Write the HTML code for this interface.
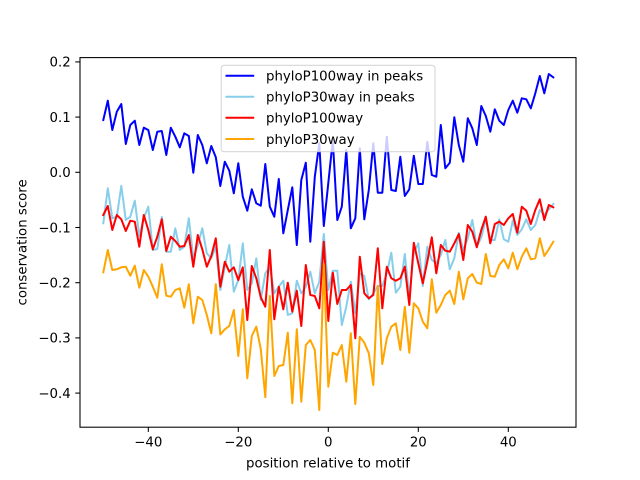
<!DOCTYPE html>
<html><head><meta charset="utf-8"><style>
html,body{margin:0;padding:0;background:#fff;}
svg{display:block;}
text{font-family:"DejaVu Sans","Liberation Sans",sans-serif;font-size:13.33px;fill:#000;}
</style></head><body>
<svg width="640" height="480" viewBox="0 0 640 480" xmlns="http://www.w3.org/2000/svg">
<rect x="0" y="0" width="640" height="480" fill="#fff"/>
<defs><clipPath id="ax"><rect x="80" y="57.6" width="496" height="369.6"/></clipPath></defs>
<g clip-path="url(#ax)" fill="none" stroke-width="2" stroke-linejoin="round" stroke-linecap="square">
<g transform="translate(103.3,0) scale(4.5,1)">
<polyline vector-effect="non-scaling-stroke" stroke="#0000ff" points="0,120 1,100.7 2,130 3,111.7 4,104 5,144 6,125 7,120.7 8,145 9,127.7 10,130 11,150 12,131.7 13,131 14,155 15,127.7 16,136.7 17,147.3 18,133.3 19,136 20,172.7 21,135 22,145 23,163.3 24,146 25,157.3 26,186 27,161.7 28,170.7 29,193.3 30,163.3 31,196.7 32,210.7 33,189.3 34,203.3 35,205.7 36,164 37,206.7 38,216.7 39,179 40,233.3 41,210 42,187.3 43,245 44,180 45,162.7 46,241.7 47,176.7 48,143.3 49,226 50,183 51,140 52,220 53,206.7 54,150 55,228.3 56,218.3 57,148.3 58,219.3 59,190 60,143.3 61,192.7 62,192.7 63,136.7 64,190 65,191 66,156.7 67,196 68,189.3 69,155.7 70,184 71,184 72,141.7 73,175 74,176.7 75,125 76,168.3 77,162.7 78,117.3 79,145 80,161.7 81,118.3 82,128.3 83,145 84,106 85,116 86,131.7 87,109.3 88,120.7 89,125 90,110 91,100.7 92,112.7 93,98.3 94,99.3 95,108.3 96,93.3 97,76 98,93.3 99,74 100,77.3"/>
<polyline vector-effect="non-scaling-stroke" stroke="#87ceeb" points="0,223.3 1,188.3 2,218.3 3,216.7 4,186 5,220 6,216.7 7,200.7 8,236 9,218 10,206.7 11,250 12,249 13,217 14,251.7 15,251.7 16,228.3 17,250 18,246.7 19,218.3 20,258.3 21,245 22,228.3 23,253.3 24,258.3 25,246.7 26,290 27,266.7 28,245 29,291.7 30,280 31,243.3 32,290 33,283.3 34,258.3 35,300 36,273.3 37,266.7 38,293.3 39,286.7 40,280.7 41,315 42,313.3 43,280.7 44,293.3 45,286.7 46,271.7 47,293.3 48,281.7 49,234 50,290 51,270.7 52,270.7 53,325 54,306.7 55,281.7 56,313.3 57,273.3 58,276 59,299.3 60,293.3 61,286 62,286 63,273.3 64,252.7 65,292.7 66,286.7 67,254 68,296.7 69,253.3 70,243.3 71,286 72,246.7 73,260 74,263.3 75,255 76,240 77,269.3 78,258.3 79,232.7 80,250 81,238.3 82,220 83,246.7 84,237.3 85,219.3 86,240 87,240 88,219.3 89,239.3 90,241.7 91,220.7 92,235 93,229.3 94,219.3 95,230 96,225 97,210 98,215 99,209.3 100,204"/>
<polyline vector-effect="non-scaling-stroke" stroke="#ff0000" points="0,215 1,206 2,230 3,215 4,219.3 5,231 6,220.7 7,221.7 8,246.7 9,215 10,230 11,249.3 12,236.7 13,219.3 14,251 15,236.7 16,241 17,246.7 18,246 19,235 20,266.7 21,235 22,249.3 23,266.7 24,256 25,238.3 26,286.7 27,261.7 28,271.7 29,267.3 30,280 31,267.3 32,320 33,266 34,278.3 35,297.3 36,306.7 37,250 38,319.3 39,286.7 40,309.3 41,282.7 42,311.7 43,290.7 44,326 45,265 46,295 47,296 48,308.3 49,241.7 50,321 51,272.7 52,304 53,290 54,290 55,285 56,338.3 57,256.7 58,293.3 59,298.3 60,295 61,248.3 62,308.3 63,266.7 64,278.3 65,280.7 66,278.3 67,266.7 68,305 69,242.7 70,263.3 71,283.3 72,261.7 73,237.3 74,273.3 75,245 76,250.7 77,251.7 78,243.3 79,234 80,260 81,225 82,231.7 83,247.3 84,230 85,216.7 86,243.3 87,224 88,221.7 89,225 90,218.3 91,214 92,232.7 93,206.7 94,210.7 95,224 96,210 97,199.3 98,220 99,205 100,207.3"/>
<polyline vector-effect="non-scaling-stroke" stroke="#ffa500" points="0,272.3 1,250 2,270 3,269.3 4,267.3 5,266.7 6,275.7 7,265.7 8,287.7 9,270 10,276.7 11,286.7 12,297.7 13,264.3 14,295.7 15,296.7 16,290 17,288.3 18,307.7 19,284.3 20,323.3 21,296.7 22,300 23,315 24,333.3 25,284.3 26,334.5 27,329.3 28,326 29,310 30,356 31,309.3 32,378.3 33,336 34,326.7 35,349.3 36,397.3 37,296 38,376 39,366 40,365 41,332.7 42,403.3 43,329.3 44,401.7 45,345 46,340 47,350 48,410 49,264 50,386.7 51,352.7 52,355 53,345 54,381.7 55,333.3 56,404 57,336.7 58,342.7 59,353.3 60,385 61,286 62,364 63,338.3 64,326.7 65,323.3 66,350 67,306.7 68,352.7 69,303.3 70,308.3 71,321.7 72,328.3 73,279.3 74,312.7 75,305 76,295 77,290.7 78,304 79,271.7 80,299.3 81,278.3 82,274 83,282.7 84,284 85,254 86,276 87,276.7 88,265 89,259.3 90,268.3 91,252.7 92,269.3 93,256.7 94,248.3 95,259.3 96,258.3 97,238.3 98,256 99,249.3 100,241.7"/>
</g>
</g>
<!-- axes frame -->
<rect x="80" y="57.6" width="496" height="369.6" fill="none" stroke="#000" stroke-width="1.07"/>
<!-- ticks -->
<g stroke="#000" stroke-width="1.07">
<line x1="75.3" y1="61.9" x2="80" y2="61.9"/>
<line x1="75.3" y1="117.1" x2="80" y2="117.1"/>
<line x1="75.3" y1="172.3" x2="80" y2="172.3"/>
<line x1="75.3" y1="227.5" x2="80" y2="227.5"/>
<line x1="75.3" y1="282.7" x2="80" y2="282.7"/>
<line x1="75.3" y1="337.9" x2="80" y2="337.9"/>
<line x1="75.3" y1="393.1" x2="80" y2="393.1"/>
<line x1="148.3" y1="427.2" x2="148.3" y2="431.9"/>
<line x1="238.3" y1="427.2" x2="238.3" y2="431.9"/>
<line x1="328.3" y1="427.2" x2="328.3" y2="431.9"/>
<line x1="418.3" y1="427.2" x2="418.3" y2="431.9"/>
<line x1="508.3" y1="427.2" x2="508.3" y2="431.9"/>
</g>
<g text-anchor="end">
<text x="70.7" y="66.7">0.2</text>
<text x="70.7" y="121.9">0.1</text>
<text x="70.7" y="177.1">0.0</text>
<text x="70.7" y="232.3">−0.1</text>
<text x="70.7" y="287.5">−0.2</text>
<text x="70.7" y="342.7">−0.3</text>
<text x="70.7" y="397.9">−0.4</text>
</g>
<g text-anchor="middle">
<text x="148.3" y="446.5">−40</text>
<text x="238.3" y="446.5">−20</text>
<text x="328.3" y="446.5">0</text>
<text x="418.3" y="446.5">20</text>
<text x="508.3" y="446.5">40</text>
<text x="328" y="467.5">position relative to motif</text>
<text transform="translate(26.5,242.4) rotate(-90)">conservation score</text>
</g>
<!-- legend -->
<rect x="221.2" y="65.3" width="213.8" height="86.4" rx="2.8" ry="2.8" fill="#fff" fill-opacity="0.8" stroke="#cccccc" stroke-opacity="0.8" stroke-width="1.07"/>
<g stroke-width="2" stroke-linecap="square">
<line x1="226.5" y1="75.7" x2="253.2" y2="75.7" stroke="#0000ff"/>
<line x1="226.5" y1="96.7" x2="253.2" y2="96.7" stroke="#87ceeb"/>
<line x1="226.5" y1="117.7" x2="253.2" y2="117.7" stroke="#ff0000"/>
<line x1="226.5" y1="139" x2="253.2" y2="139" stroke="#ffa500"/>
</g>
<text x="266" y="80.5">phyloP100way in peaks</text>
<text x="266" y="101.5">phyloP30way in peaks</text>
<text x="266" y="122.5">phyloP100way</text>
<text x="266" y="143.8">phyloP30way</text>
</svg>
</body></html>
